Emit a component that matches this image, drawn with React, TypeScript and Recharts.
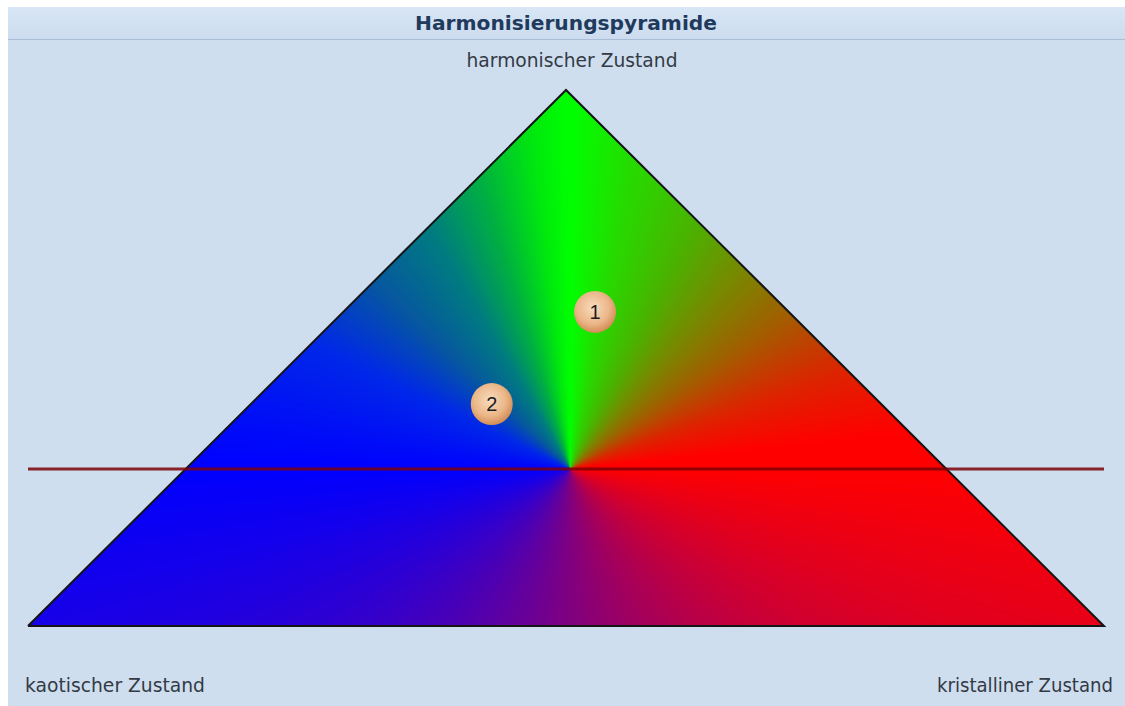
import React from 'react';
import { ComposedChart, Area, Scatter, XAxis, YAxis, ReferenceLine } from 'recharts';

// pyramid outline (closed), in percent of the axis ranges
const pyramid = [
  { x: 0, y: 0 },
  { x: 50, y: 100 },
  { x: 100, y: 0 },
  { x: 0, y: 0 },
];

// measured states
const states = [
  { x: 52.7, y: 58.6, label: '1' },
  { x: 43.1, y: 41.4, label: '2' },
];

// harmony threshold and centre of the colour wheel
const threshold = 29.3;
const wheelCentreX = 50.4;

const title = 'Harmonisierungspyramide';
const topLabel = 'harmonischer Zustand';
const leftLabel = 'kaotischer Zustand';
const rightLabel = 'kristalliner Zustand';

const W = 1125;
const H = 706;
const margin = { top: 90, right: 21, bottom: 80, left: 28 };

// colour wheel stops: angle clockwise from up -> colour
const wheel: [number, string][] = [
  [0, '#00ff00'],
  [12, '#28d800'],
  [26, '#48b400'],
  [40, '#768a00'],
  [54, '#a06000'],
  [70, '#dc2400'],
  [84, '#ff0000'],
  [90, '#ff0000'],
  [180, '#800080'],
  [270, '#0000ff'],
  [296, '#0028e8'],
  [314, '#06589e'],
  [330, '#007c80'],
  [343, '#00b040'],
  [354, '#00ea0c'],
  [360, '#00ff00'],
];

const hex = (s: string) => [1, 3, 5].map((i) => parseInt(s.slice(i, i + 2), 16));

function wheelColour(a: number) {
  for (let i = 1; i < wheel.length; i++) {
    const [a1, c1] = wheel[i];
    const [a0, c0] = wheel[i - 1];
    if (a <= a1) {
      const t = (a - a0) / (a1 - a0 || 1);
      const p = hex(c0);
      const q = hex(c1);
      const c = p.map((v, k) => Math.round(v + (q[k] - v) * t));
      return `rgb(${c[0]},${c[1]},${c[2]})`;
    }
  }
  return wheel[wheel.length - 1][1];
}

function ColourWheel({ cx, cy }: { cx: number; cy: number }) {
  const wedges = [];
  const step = 0.5;
  const R = 1000;
  for (let a = 0; a < 360; a += step) {
    const r0 = (a * Math.PI) / 180;
    const r1 = ((a + step * 3) * Math.PI) / 180;
    const d = `M${cx},${cy}L${cx + R * Math.sin(r0)},${cy - R * Math.cos(r0)}L${cx + R * Math.sin(r1)},${cy - R * Math.cos(r1)}Z`;
    wedges.push(<path key={a} d={d} fill={wheelColour(a + step / 2)} shapeRendering="crispEdges" />);
  }
  return <>{wedges}</>;
}

const Bubble = (props: any) => {
  const { cx, cy, payload } = props;
  return (
    <g>
      <circle cx={cx} cy={cy} r={21} fill="url(#bubble)" />
      <text x={cx} y={cy + 7} textAnchor="middle" fontSize={20} fill="#1c1c1c" fontFamily="Liberation Sans, Arial, sans-serif">
        {payload.label}
      </text>
    </g>
  );
};

export default function App() {
  const plotW = W - margin.left - margin.right;
  const plotH = H - margin.top - margin.bottom;
  const cx = margin.left + (wheelCentreX / 100) * plotW;
  const cy = margin.top + (1 - threshold / 100) * plotH;
  const font = 'DejaVu Sans, Verdana, sans-serif';

  return (
    <div style={{ position: 'absolute', left: 0, top: 0, width: W, height: H, background: '#ffffff', overflow: 'hidden' }}>
      <div style={{ position: 'absolute', left: 8, top: 7, right: 0, bottom: 0, background: '#cfdeee' }} />
      <div
        style={{
          position: 'absolute', left: 8, top: 7, right: 0, height: 32,
          background: 'linear-gradient(#d8e6f5, #ccdcee)',
          borderBottom: '1px solid #a9bed6',
        }}
      />
      <div style={{ position: 'absolute', left: 0, top: 0 }}>
        <ComposedChart width={W} height={H} data={pyramid} margin={margin}>
          <defs>
            <pattern id="wheel" patternUnits="userSpaceOnUse" x={0} y={0} width={W} height={H}>
              <ColourWheel cx={cx} cy={cy} />
            </pattern>
            <radialGradient id="bubble" cx="45%" cy="40%" r="60%">
              <stop offset="0%" stopColor="#f8dcc0" />
              <stop offset="65%" stopColor="#ebb687" />
              <stop offset="100%" stopColor="#d38c56" />
            </radialGradient>
          </defs>
          <XAxis dataKey="x" type="number" domain={[0, 100]} hide />
          <YAxis type="number" domain={[0, 100]} hide />
          <Area
            type="linear"
            dataKey="y"
            stroke="#151515"
            strokeWidth={2}
            fill="url(#wheel)"
            fillOpacity={1}
            baseValue={0}
            dot={false}
            activeDot={false}
            isAnimationActive={false}
          />
          <ReferenceLine y={threshold} stroke="#7d0008" strokeOpacity={0.85} strokeWidth={3} />
          <Scatter data={states} dataKey="y" shape={<Bubble />} isAnimationActive={false} />
        </ComposedChart>
      </div>
      <svg width={W} height={H} style={{ position: 'absolute', left: 0, top: 0, pointerEvents: 'none' }}>
        <text x={566} y={30} textAnchor="middle" fontFamily={font} fontWeight="bold" fontSize={19} fill="#1f3a5c" textLength={302} lengthAdjust="spacingAndGlyphs">
          {title}
        </text>
        <text x={572} y={67} textAnchor="middle" fontFamily={font} fontSize={19} fill="#333a45" textLength={211} lengthAdjust="spacingAndGlyphs">
          {topLabel}
        </text>
        <text x={25} y={692} textAnchor="start" fontFamily={font} fontSize={19} fill="#333a45" textLength={180} lengthAdjust="spacingAndGlyphs">
          {leftLabel}
        </text>
        <text x={1113} y={692} textAnchor="end" fontFamily={font} fontSize={19} fill="#333a45" textLength={176} lengthAdjust="spacingAndGlyphs">
          {rightLabel}
        </text>
      </svg>
    </div>
  );
}
